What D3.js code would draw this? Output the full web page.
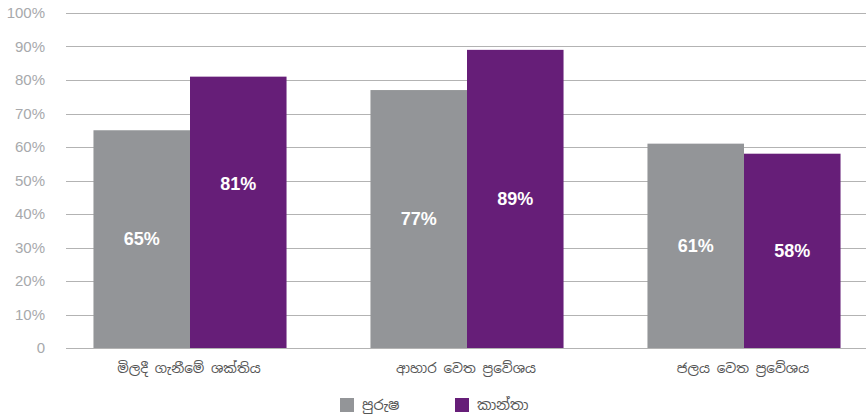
<!DOCTYPE html>
<html><head><meta charset="utf-8">
<script src="https://cdn.jsdelivr.net/npm/d3@7/dist/d3.min.js"></script>
<style>body{margin:0;background:#fff;} svg{display:block;font-family:"Liberation Sans",Arial,"Noto Sans",sans-serif;}</style>
</head><body>
<svg id="c" width="868" height="416"></svg>
<script>
const categories = ["මිලදී ගැනීමේ ශක්තිය", "ආහාර වෙත ප්‍රවේශය", "ජලය වෙත ප්‍රවේශය"];
const seriesNames = ["පුරුෂ", "කාන්තා"];
const male = [65, 77, 61];
const female = [81, 89, 58];
const yTicks = [0, 10, 20, 30, 40, 50, 60, 70, 80, 90, 100];
const colors = ["#939598", "#661e78"];

const svg = d3.select("#c");
const y = d3.scaleLinear().domain([0, 100]).range([348, 13]);
const x = d3.scaleBand().domain(categories).range([51.5, 882.5]).paddingInner(0.303).paddingOuter(0.1515);
const xs = d3.scaleBand().domain(seriesNames).range([0, x.bandwidth()]);

svg.append("g").selectAll("line").data(yTicks).join("line")
  .attr("x1", 66).attr("x2", 866)
  .attr("y1", d => Math.round(y(d)) + 0.5).attr("y2", d => Math.round(y(d)) + 0.5)
  .attr("stroke", "#b3b3b3").attr("stroke-width", 1);

svg.append("g").selectAll("text").data(yTicks).join("text")
  .attr("x", 45).attr("y", d => y(d)).attr("dy", "0.35em")
  .attr("text-anchor", "end").attr("fill", "#a7a9ac").attr("font-size", 15)
  .text(d => d === 0 ? "0" : d + "%");

const rows = categories.map((c, i) => [
  {cat: c, s: seriesNames[0], v: male[i], k: i + "-0"},
  {cat: c, s: seriesNames[1], v: female[i], k: i + "-1"}
]).flat();

svg.append("g").selectAll("rect").data(rows).join("rect")
  .attr("x", d => x(d.cat) + xs(d.s))
  .attr("width", xs.bandwidth())
  .attr("y", d => y(d.v))
  .attr("height", d => y(0) - y(d.v))
  .attr("fill", d => colors[seriesNames.indexOf(d.s)]);

const labelShift = {"0-1": -29};
svg.append("g").selectAll("text").data(rows).join("text")
  .attr("x", d => x(d.cat) + xs(d.s) + xs.bandwidth() / 2)
  .attr("y", d => y(d.v / 2) + (labelShift[d.k] || 0))
  .attr("dy", "0.35em").attr("text-anchor", "middle")
  .attr("fill", "#fff").attr("font-weight", "bold").attr("font-size", 18)
  .text(d => d.v + "%");

svg.append("g").selectAll("text").data(categories).join("text")
  .attr("x", d => x(d) + x.bandwidth() / 2 - 1).attr("y", 368).attr("dy", "0.35em")
  .attr("text-anchor", "middle").attr("fill", "#555").attr("font-size", 13.5)
  .style("font-family", "'Noto Sans Sinhala','Noto Sans',sans-serif")
  .text(d => d);

const legX = [340, 455];
const leg = svg.append("g").selectAll("g").data(seriesNames).join("g")
  .attr("transform", (d, i) => `translate(${legX[i]},398)`);
leg.append("rect").attr("width", 14).attr("height", 14).attr("fill", (d, i) => colors[i]);
leg.append("text").attr("x", 22).attr("y", 7).attr("dy", "0.35em")
  .attr("fill", "#555").attr("font-size", 14.5)
  .style("font-family", "'Noto Sans Sinhala','Noto Sans',sans-serif")
  .text(d => d);
</script>
</body></html>
